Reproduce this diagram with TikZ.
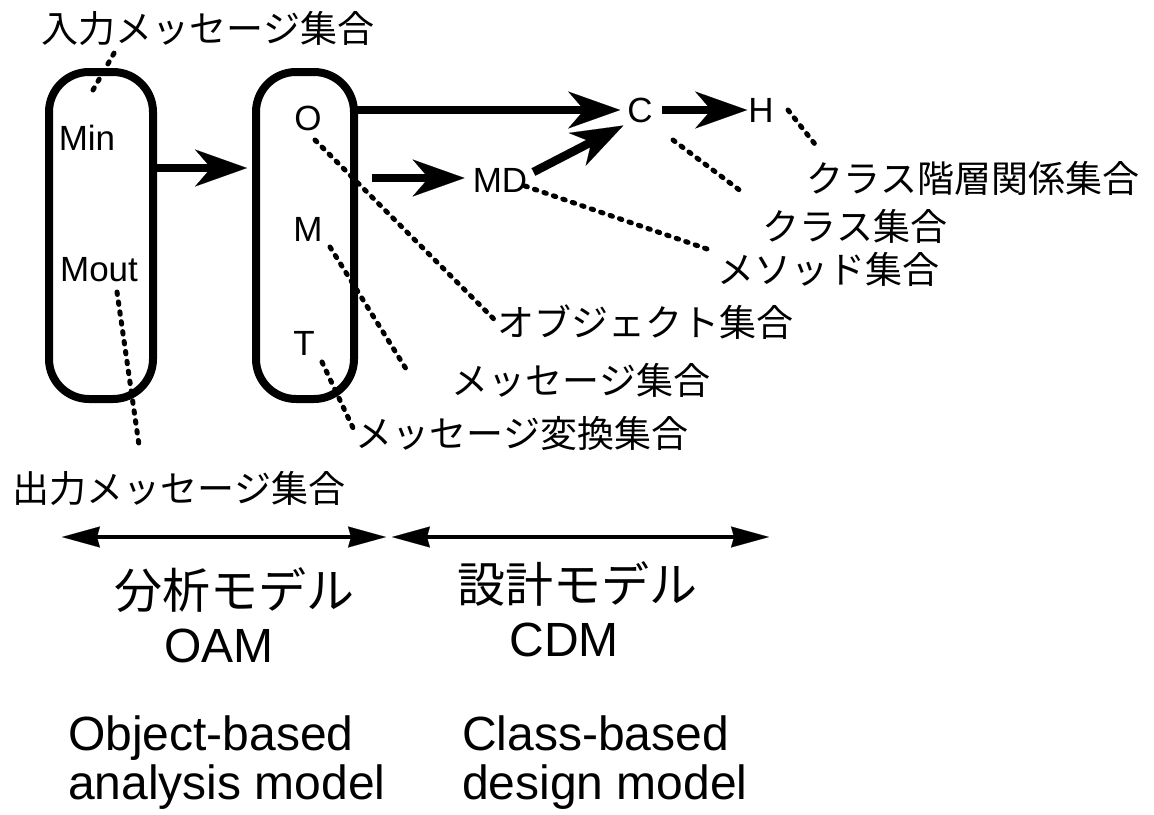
\documentclass[tikz,border=0pt]{standalone}
\usepackage{fontspec}
\setmainfont{Liberation Sans}
\newfontfamily\jp{Noto Sans CJK JP}
\usetikzlibrary{arrows.meta}
\begin{document}
\begin{tikzpicture}[x=1pt,y=-1pt,
  box/.style={draw, line width=8pt, rounded corners=40pt, inner sep=0pt, outer sep=0pt},
  lbl/.style={font=\fontsize{35}{40}\selectfont, inner sep=0pt},
  jlbl/.style={font=\jp\fontsize{37}{40}\selectfont, inner sep=0pt},
  big/.style={font=\fontsize{48}{52}\selectfont, inner sep=0pt},
  jbig/.style={font=\jp\fontsize{48}{52}\selectfont, inner sep=0pt},
  bigarrow/.style={line width=8.5pt, -{Stealth[length=52pt, width=37pt, inset=16pt, line width=0.1pt]}},
  dbl/.style={line width=4pt, {Stealth[length=38pt, width=21pt, inset=3pt, line width=0.1pt]}-{Stealth[length=38pt, width=21pt, inset=3pt, line width=0.1pt]}},
  dots/.style={line width=5pt, line cap=round, dash pattern=on 2.5pt off 7.5pt}
]
\useasboundingbox (0,0) rectangle (1154,814);

% boxes
\node[box, minimum width=104pt, minimum height=327pt] (L) at (101,235.5) {};
\node[box, minimum width=98pt, minimum height=327pt] (R) at (305,235.5) {};

% symbols
\node[lbl] (Min) at (87,138) {Min};
\node[lbl] (Mout) at (99,270) {Mout};
\node[lbl] (O) at (308,118) {O};
\node[lbl] (M) at (308,229) {M};
\node[lbl] (T) at (304,343) {T};
\node[lbl] (MD) at (500,180) {MD};
\node[lbl] (C) at (640,110) {C};
\node[lbl] (H) at (761,110) {H};

% japanese labels
\node[jlbl] (jin) at (208,28) {入力メッセージ集合};
\node[jlbl] (jout) at (179,488) {出力メッセージ集合};
\node[jlbl] (jobj) at (645,322) {オブジェクト集合};
\node[jlbl] (jmsg) at (581,380) {メッセージ集合};
\node[jlbl] (jtr) at (522,433) {メッセージ変換集合};
\node[jlbl] (jmeth) at (828,269) {メソッド集合};
\node[jlbl] (jcls) at (855,226) {クラス集合};
\node[jlbl] (jhier) at (973,178) {クラス階層関係集合};

% bottom texts
\node[jbig] (ana) at (234,590) {分析モデル};
\node[big] (oam) at (219,646) {OAM};
\node[jbig] (des) at (577,584) {設計モデル};
\node[big] (cdm) at (564,640) {CDM};
\node[big, anchor=base west] (ob1) at (68,750) {Object-based};
\node[big, anchor=base west] (ob2) at (68,799) {analysis model};
\node[big, anchor=base west] (cl1) at (462,750) {Class-based};
\node[big, anchor=base west] (cl2) at (462,799) {design model};

% thick arrows
\coordinate (a1s) at (157,168);
\draw[bigarrow, shorten >=9pt] (a1s) -- (R.west |- a1s);
\draw[bigarrow, shorten >=7pt] (R.east |- C.west) -- (C.west);
\coordinate (mds) at (372,178);
\draw[bigarrow, shorten >=8pt] (mds) -- (mds -| MD.west);
\draw[bigarrow, shorten >=2pt] ([xshift=6pt,yshift=8pt]MD.east) -- ([xshift=-2pt,yshift=-2pt]C.south west);
\draw[bigarrow, shorten <=9pt, shorten >=1pt] (C.east) -- (H.west);

% dotted leaders
\coordinate (d1a) at (93,90);   \coordinate (d1b) at (117,48);
\coordinate (d2a) at (117,292); \coordinate (d2b) at (139,445);
\coordinate (d3a) at (315,140);
\coordinate (d4a) at (330,247); \coordinate (d4b) at (408,372);
\coordinate (d5a) at (322,362); \coordinate (d5b) at (354,430);
\coordinate (d6a) at (525,186); \coordinate (d6b) at (710,250);
\coordinate (d7a) at (673,140); \coordinate (d7b) at (742,192);
\coordinate (d8a) at (788,110); \coordinate (d8b) at (818,148);
\draw[dots] (d1a) -- (d1b);
\draw[dots] (d2a) -- (d2b);
\draw[dots] (d3a) -- (jobj.west);
\draw[dots] (d4a) -- (d4b);
\draw[dots] (d5a) -- (d5b);
\draw[dots] (d6a) -- (d6b);
\draw[dots] (d7a) -- (d7b);
\draw[dots] (d8a) -- (d8b);

% bottom double arrows
\coordinate (bl) at (62,537);  \coordinate (bm1) at (386,537);
\coordinate (bm2) at (392,537); \coordinate (br) at (769,537);
\draw[dbl] (bl) -- (bm1);
\draw[dbl] (bm2) -- (br);
\end{tikzpicture}
\end{document}
